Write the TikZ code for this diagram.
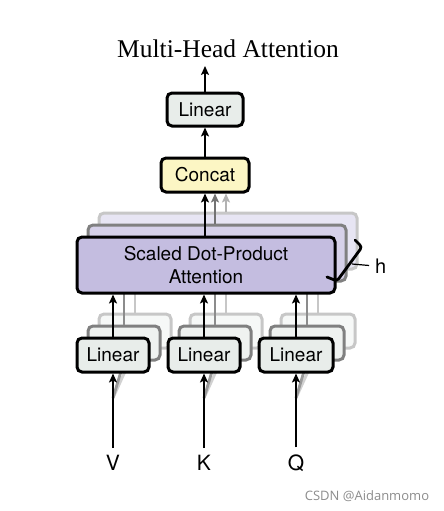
\documentclass[tikz,border=0pt]{standalone}
\usepackage{fontspec}
\setmainfont{Liberation Serif}
\setsansfont{TeX Gyre Heros}
\newfontfamily\wmfont{Open Sans}
\usetikzlibrary{arrows.meta}
\definecolor{linfill}{RGB}{232,237,234}
\definecolor{catfill}{RGB}{252,246,196}
\definecolor{sdpafill}{RGB}{196,189,224}
\begin{document}
\begin{tikzpicture}[x=1pt,y=-1pt,
  box/.style={draw=black, line width=3pt, rounded corners=5pt, inner sep=0pt,
    font=\sffamily\fontsize{19}{23}\selectfont, align=center},
  linbox/.style={box, fill=linfill, minimum width=72pt, minimum height=34pt},
  sdpabox/.style={box, fill=sdpafill, minimum width=258pt, minimum height=56pt},
  lay2/.style={draw=black!50, fill=#1!70},
  lay3/.style={draw=black!22, fill=#1!40},
  arr/.style={line width=2.8pt, -{Stealth[length=9pt,width=8pt,inset=2pt]}},
  ln/.style={line width=2.8pt},
  lbl/.style={font=\sffamily\fontsize{21}{25}\selectfont, inner sep=0pt}
]
\useasboundingbox (0,0) rectangle (444,511);

% title
\node[font=\fontsize{25.5}{29}\selectfont] (title) at (228,49) {Multi-Head Attention};

% inputs
\node[lbl] (V) at (113,463) {V};
\node[lbl] (K) at (204,463) {K};
\node[lbl] (Q) at (296,463) {Q};
\coordinate (Vsh) at (113,398);
\coordinate (Ksh) at (204,398);
\coordinate (Qsh) at (296,398);

% ---- layer 3 (back) ----
\node[sdpabox, lay3=sdpafill] (sdpa3) at (228,241) {};
\node[linbox, lay3=linfill] (Vlin3) at (135,331) {};
\node[linbox, lay3=linfill] (Klin3) at (226,331) {};
\node[linbox, lay3=linfill, minimum width=74pt] (Qlin3) at (318,331) {};
\draw[ln, black!22] (Vlin3.north) -- (Vlin3.north |- sdpa3.south);
\draw[ln, black!22] (Klin3.north) -- (Klin3.north |- sdpa3.south);
\draw[ln, black!22] (Qlin3.north) -- (Qlin3.north |- sdpa3.south);
\draw[ln, black!18] (Vsh) -- (Vlin3.south);
\draw[ln, black!18] (Ksh) -- (Klin3.south);
\draw[ln, black!18] (Qsh) -- (Qlin3.south);

% ---- layer 2 ----
\node[sdpabox, lay2=sdpafill] (sdpa2) at (217,253) {};
\node[linbox, lay2=linfill] (Vlin2) at (124,343) {};
\node[linbox, lay2=linfill] (Klin2) at (215,343) {};
\node[linbox, lay2=linfill, minimum width=74pt] (Qlin2) at (307,343) {};
\draw[ln, black!45] (Vlin2.north) -- (Vlin2.north |- sdpa2.south);
\draw[ln, black!45] (Klin2.north) -- (Klin2.north |- sdpa2.south);
\draw[ln, black!45] (Qlin2.north) -- (Qlin2.north |- sdpa2.south);
\draw[ln, black!40] (Vsh) -- (Vlin2.south);
\draw[ln, black!40] (Ksh) -- (Klin2.south);
\draw[ln, black!40] (Qsh) -- (Qlin2.south);

% ---- front layer ----
\node[sdpabox] (sdpa) at (206,265) {Scaled Dot-Product\\Attention};
\node[linbox] (Vlin) at (113,355) {Linear};
\node[linbox] (Klin) at (204,355) {Linear};
\node[linbox, minimum width=74pt] (Qlin) at (296,355) {Linear};

\node[box, fill=catfill, minimum width=88pt, minimum height=34pt] (concat) at (205,175) {Concat};
\node[box, fill=linfill, minimum width=76pt, minimum height=33pt] (toplin) at (205,109.5) {Linear};
\coordinate (out) at (205,66);

% arrows into concat
\draw[arr, black!30] ([xshift=-2pt]sdpa3.north) -- ([xshift=21pt]concat.south);
\draw[arr, black!55] ([xshift=-2pt]sdpa2.north) -- ([xshift=10pt]concat.south);
\draw[arr] ([xshift=-1pt]sdpa.north) -- (concat.south);
\draw[arr] (concat.north) -- (toplin.south);
\draw[arr] (toplin.north) -- (out);

% linear to sdpa
\draw[arr] (Vlin.north) -- (Vlin.north |- sdpa.south);
\draw[arr] (Klin.north) -- (Klin.north |- sdpa.south);
\draw[arr] (Qlin.north) -- (Qlin.north |- sdpa.south);

% inputs to linear
\draw[arr] ([yshift=7pt]V.north) -- (Vlin.south);
\draw[arr] ([yshift=7pt]K.north) -- (Klin.south);
\draw[arr] ([yshift=7pt]Q.north) -- (Qlin.south);

% h brace
\coordinate (b1) at (355,240);
\coordinate (b2) at (362,247);
\coordinate (b3) at (337,281);
\coordinate (b4) at (327,277);
\draw[line width=2.8pt, line cap=round, rounded corners=3pt] (b1) -- (b2) -- (b3) -- (b4);
\coordinate (t1) at (352,264);
\node[lbl, font=\sffamily\fontsize{20}{24}\selectfont, anchor=west] (h) at (375,266) {h};
\draw[line width=1.2pt, shorten >=6pt] (t1) -- (h.west);

% watermark
\node[text=black!45, font=\wmfont\fontsize{13}{15}\selectfont, inner sep=0pt] (wm) at (367,496) {CSDN @Aidanmomo};
\end{tikzpicture}
\end{document}
